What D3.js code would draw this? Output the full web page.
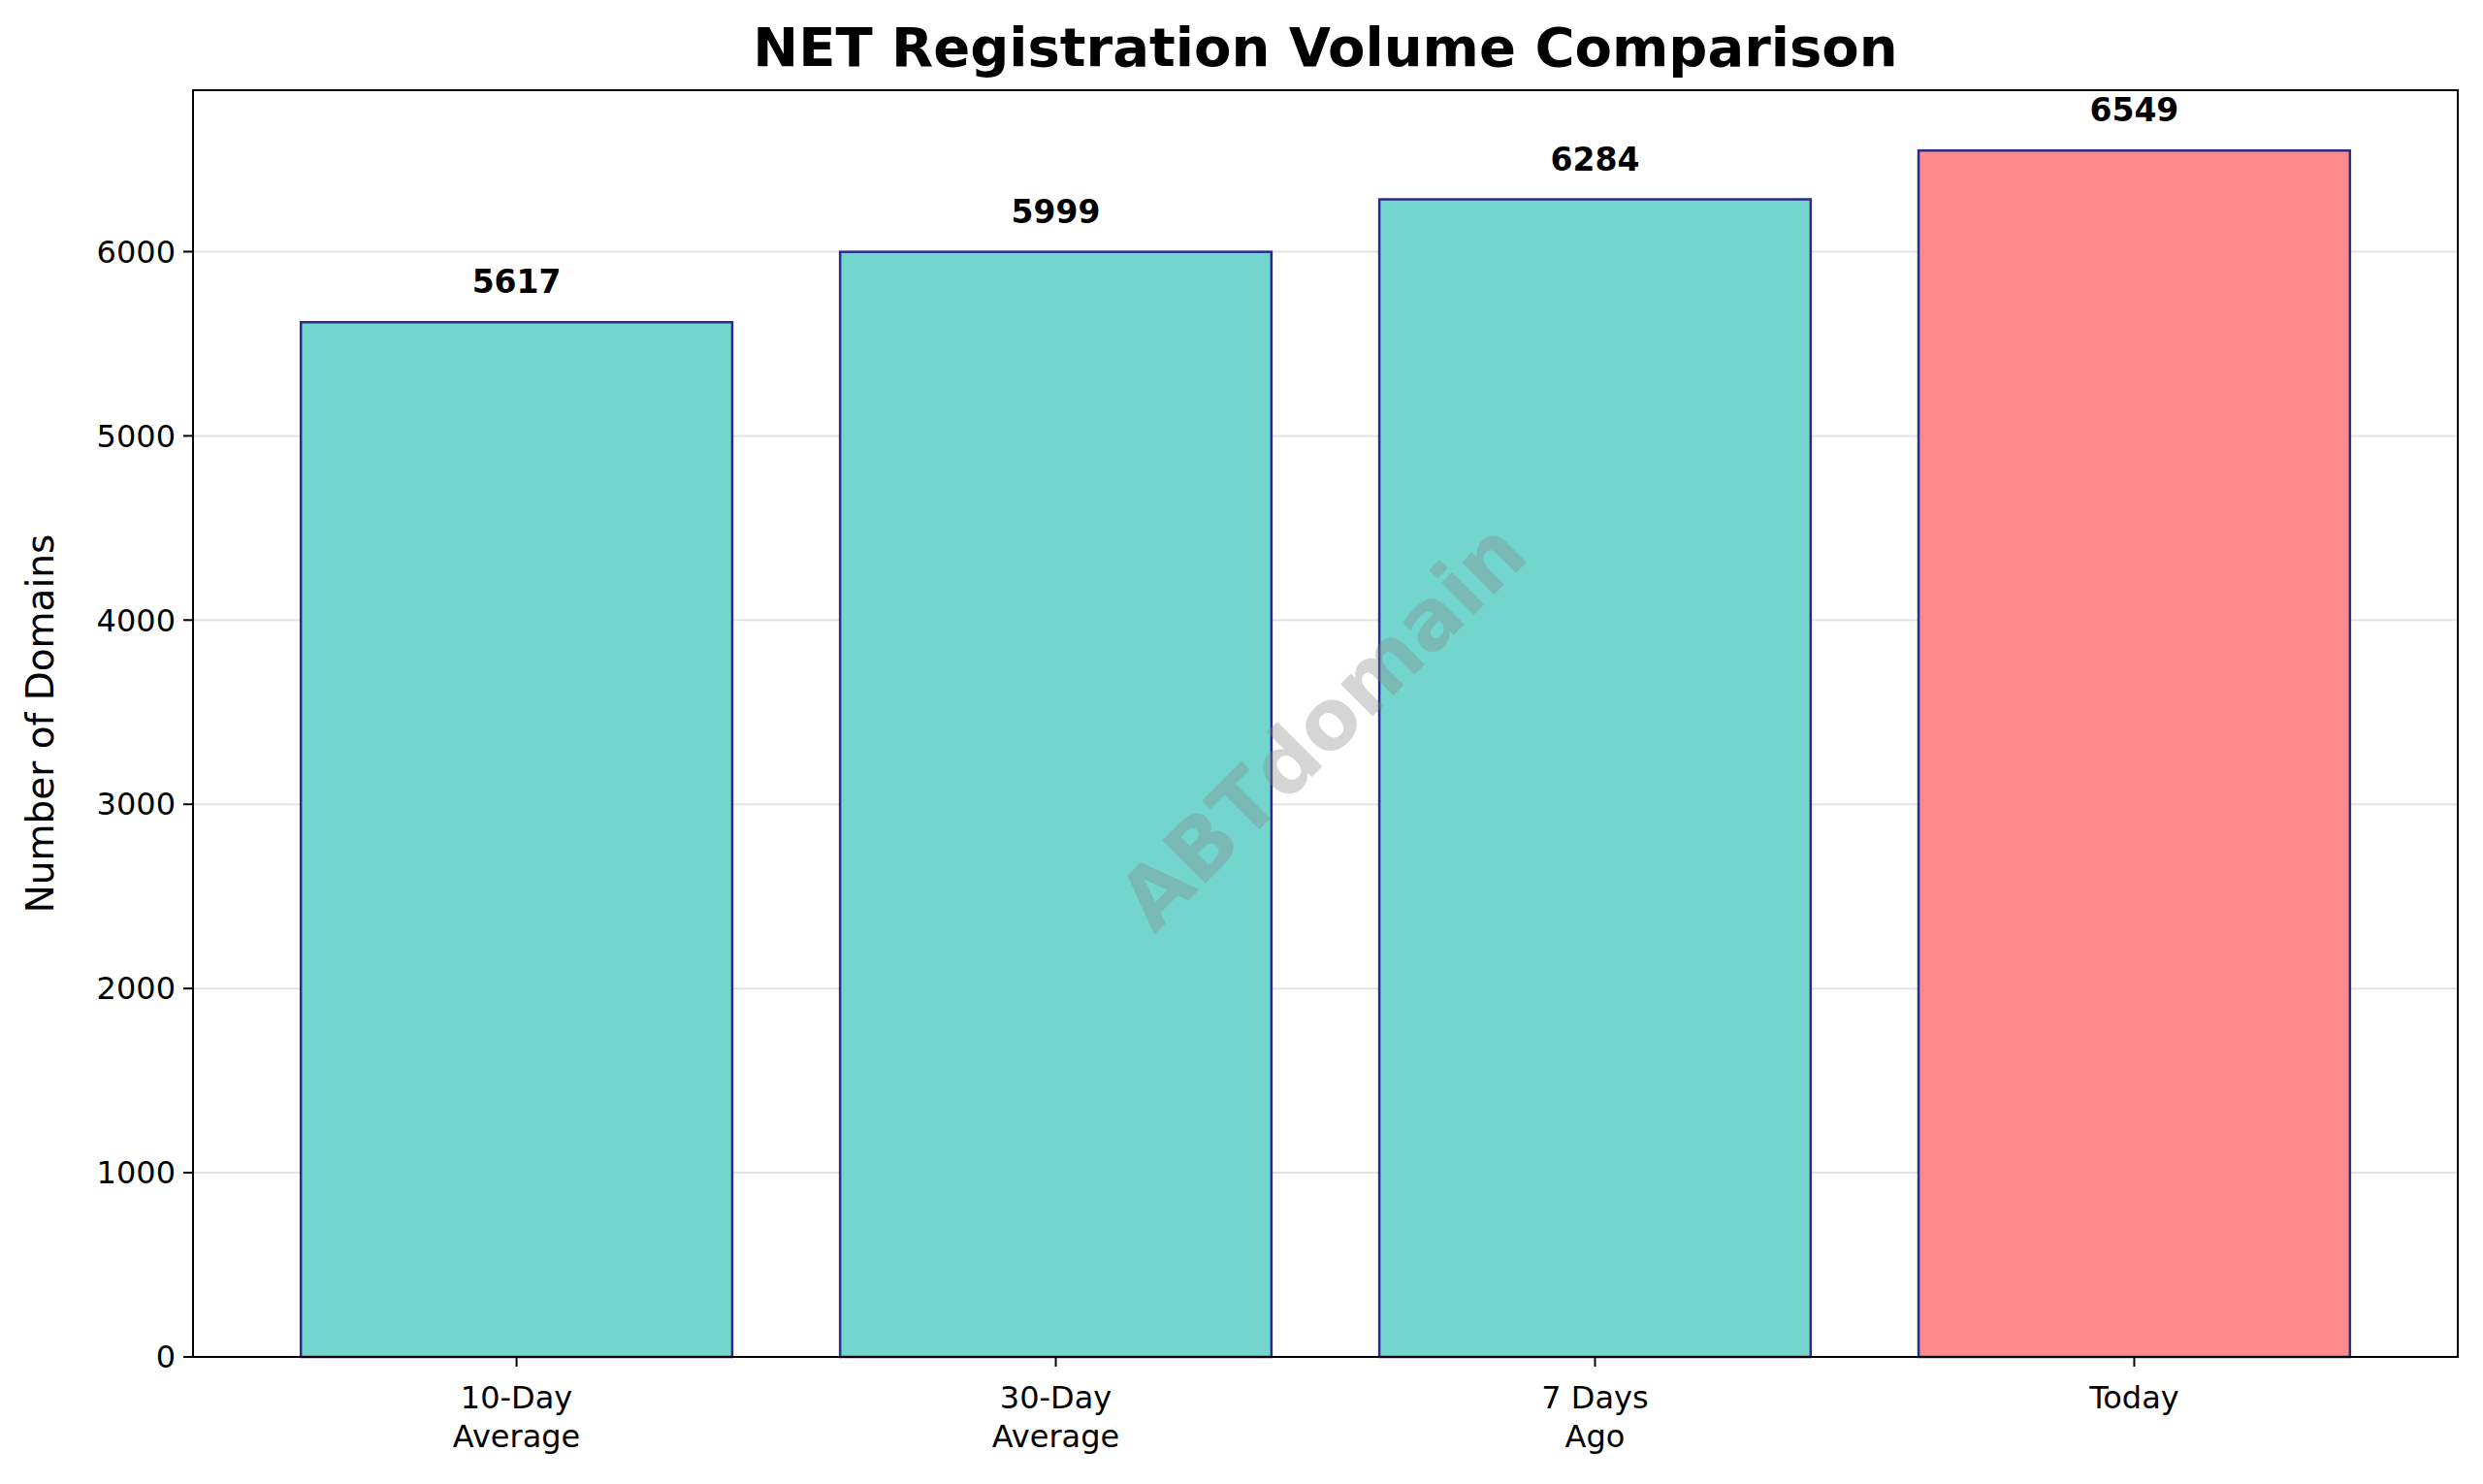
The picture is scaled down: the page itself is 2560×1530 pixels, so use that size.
<!DOCTYPE html>
<html><head><meta charset="utf-8">
<script src="https://cdn.jsdelivr.net/npm/d3@7"></script>
<style>body{margin:0;background:#fff}</style></head>
<body><svg id="c" width="2560" height="1530"></svg>
<script>
const categories = ["10-Day\nAverage","30-Day\nAverage","7 Days\nAgo","Today"];
const values = [5617,5999,6284,6549];
const colors = ["#72d6cf","#72d6cf","#72d6cf","#ff8a8a"];
const yTicks = [0,1000,2000,3000,4000,5000,6000];

const svg = d3.select("#c");
const L=199,R=2534,T=93,B=1399;
const font="DejaVu Sans";
const x = d3.scaleLinear().domain([-0.6, categories.length-0.4]).range([L,R]);
const bw = x(0.8)-x(0);
const y = d3.scaleLinear().domain([0, d3.max(values)*1.05]).range([B,T]);

svg.append("g").selectAll("line").data(yTicks.slice(1)).join("line")
 .attr("x1",L).attr("x2",R).attr("y1",d=>y(d)).attr("y2",d=>y(d))
 .attr("stroke","#e3e3e3").attr("stroke-width",2);

svg.append("g").selectAll("rect").data(values).join("rect")
 .attr("x",(d,i)=>x(i)-bw/2).attr("width",bw)
 .attr("y",d=>y(d)).attr("height",d=>B-y(d))
 .attr("fill",(d,i)=>colors[i]).attr("stroke","#2b2b8c").attr("stroke-width",2.5);

svg.append("g").selectAll("text").data(values).join("text")
 .attr("x",(d,i)=>x(i)).attr("y",d=>y(d)-30)
 .attr("text-anchor","middle").attr("font-family",font).attr("font-weight","bold")
 .attr("font-size",33).text(d=>d);

svg.append("rect").attr("x",L).attr("y",T).attr("width",R-L).attr("height",B-T)
 .attr("fill","none").attr("stroke","#000").attr("stroke-width",2);

const ya = svg.append("g");
yTicks.forEach(t=>{
  ya.append("line").attr("x1",L-10).attr("x2",L).attr("y1",y(t)).attr("y2",y(t)).attr("stroke","#000").attr("stroke-width",2);
  ya.append("text").attr("x",L-18).attr("y",y(t)).attr("dy","0.35em").attr("text-anchor","end")
   .attr("font-family",font).attr("font-size",32).text(t);
});
categories.forEach((c,i)=>{
  const cx=x(i);
  svg.append("line").attr("x1",cx).attr("x2",cx).attr("y1",B).attr("y2",B+10).attr("stroke","#000").attr("stroke-width",2);
  const t=svg.append("text").attr("text-anchor","middle").attr("font-family",font).attr("font-size",32);
  c.split("\n").forEach((s,j)=>t.append("tspan").attr("x",cx).attr("y",B+53+j*40).text(s));
});

svg.append("text").attr("transform",`translate(55,${(T+B)/2}) rotate(-90)`).attr("text-anchor","middle")
 .attr("font-family",font).attr("font-size",39).text("Number of Domains");
svg.append("text").attr("x",(L+R)/2).attr("y",68).attr("text-anchor","middle")
 .attr("font-family",font).attr("font-weight","bold").attr("font-size",56).text("NET Registration Volume Comparison");
svg.append("text").attr("transform",`translate(1363,748) rotate(-45)`).attr("text-anchor","middle").attr("dy","0.35em")
 .attr("font-family",font).attr("font-weight","bold").attr("font-size",86).attr("fill","#888").attr("opacity",0.35).text("ABTdomain");
</script></body></html>
